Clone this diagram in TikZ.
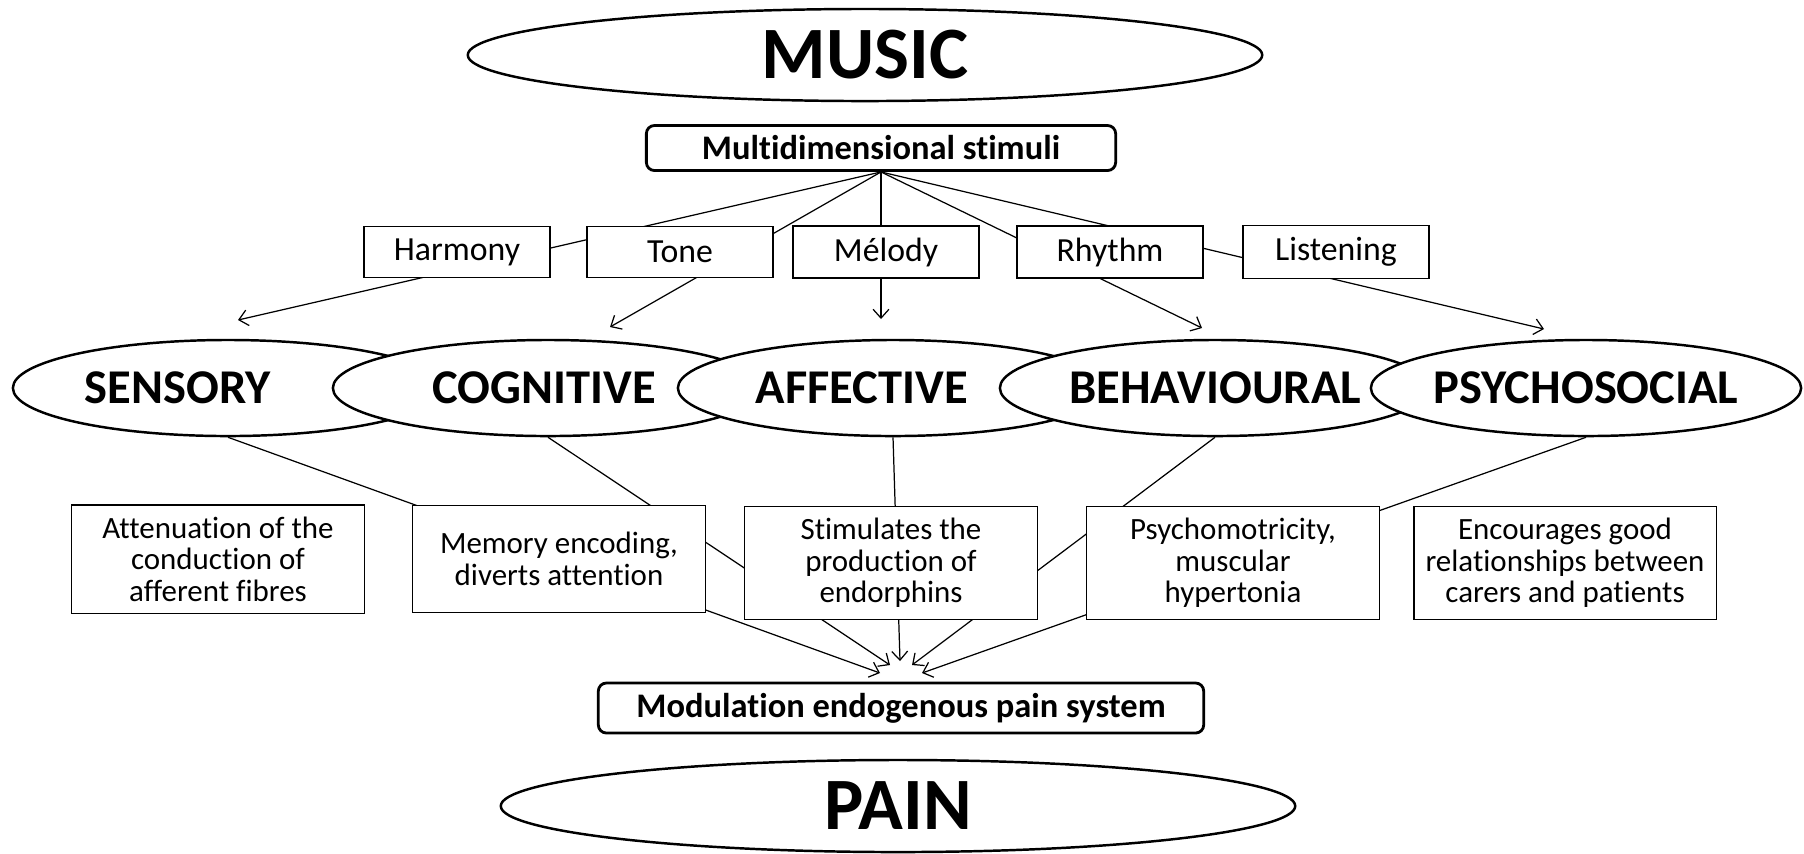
\documentclass[tikz,border=0pt]{standalone}
\usepackage{fontspec}
\setmainfont{Carlito}[Ligatures=CommonOff]
\usetikzlibrary{arrows.meta, backgrounds, positioning, shapes.geometric}

\tikzset{
	bigoval/.style={draw, ellipse, line width=0.7pt, inner sep=0pt, minimum width=7.94cm, minimum height=0.92cm, font=\fontsize{21}{24}\selectfont\bfseries},
	dimoval/.style={draw, ellipse, fill=white, line width=0.7pt, inner sep=0pt, minimum width=4.3cm, minimum height=0.96cm},
	dimtext/.style={inner sep=0pt, font=\fontsize{13.8}{16}\selectfont\bfseries},
	keybox/.style={draw, rounded corners=2.3pt, line width=0.8pt, inner sep=0pt, font=\fontsize{9.8}{12}\selectfont\bfseries},
	elembox/.style={draw, fill=white, line width=0.4pt, minimum width=1.86cm, minimum height=0.51cm, font=\fontsize{9.6}{12}\selectfont},
	effbox/.style={draw, fill=white, line width=0.4pt, minimum width=2.93cm, minimum height=1.07cm, align=center, font=\fontsize{8.8}{9}\selectfont},
	flow/.style={line width=0.35pt, -{Straight Barb[length=2.5pt,width=4.5pt]}}
}

\begin{document}
\begin{tikzpicture}[x=0.01cm, y=-0.01cm]
	\useasboundingbox (0,0) rectangle (1804,853);

	\node[bigoval] (music) at (865,55) {MUSIC};
	\node[keybox, minimum width=4.69cm, minimum height=0.45cm] (stim) at (881,148) {Multidimensional stimuli};

	% musical elements
	\node[elembox] (harm) at (457,252) {Harmony};
	\node[elembox] (tone) at (680,252) {Tone};
	\node[elembox] (melo) at (886,252) {Mélody};
	\node[elembox] (rhyt) at (1110,252) {Rhythm};
	\node[elembox] (list) at (1336,252) {Listening};

	% dimensions, left to right so each one covers the one before
	\node[dimoval] (sens) at (228,388) {};
	\node[dimtext] (sens-t) at ([xshift=-0.5cm]sens.center) {SENSORY};
	\node[dimoval] (cog) at (548,388) {};
	\node[dimtext] (cog-t) at ([xshift=-0.04cm]cog.center) {COGNITIVE};
	\node[dimoval] (aff) at (893,388) {};
	\node[dimtext] (aff-t) at ([xshift=-0.31cm]aff.center) {AFFECTIVE};
	\node[dimoval] (beh) at (1215,388) {};
	\node[dimtext] (beh-t) at (beh.center) {BEHAVIOURAL};
	\node[dimoval] (psy) at (1586,388) {};
	\node[dimtext] (psy-t) at (psy.center) {PSYCHOSOCIAL};

	% effects
	\node[effbox] (att) at (218,559) {Attenuation of the\\conduction of\\afferent fibres};
	\node[effbox] (mem) at (559,559) {Memory encoding,\\diverts attention};
	\node[effbox] (endo) at (891,563) {Stimulates the\\production of\\endorphins};
	\node[effbox] (psym) at (1233,563) {Psychomotricity,\\muscular\\hypertonia};
	\node[effbox] (enc) at (1565,563) {Encourages good\\relationships between\\carers and patients};

	\node[keybox, minimum width=6.05cm, minimum height=0.5cm] (mod) at (901,708) {Modulation endogenous pain system};
	\node[bigoval] (pain) at (898,806) {PAIN};

	\begin{scope}[on background layer]
		\fill[white] (0,0) rectangle (1804,853);
		\coordinate (sens-in) at (238,320);
		\coordinate (cog-in) at (610,327);
		\coordinate (aff-in) at (881,319);
		\coordinate (beh-in) at (1202,328);
		\coordinate (psy-in) at (1544,329);
		\coordinate (sens-out) at (880,673);
		\coordinate (cog-out) at (890,665);
		\coordinate (aff-out) at (900,661);
		\coordinate (beh-out) at (912,665);
		\coordinate (psy-out) at (922,673);
		\foreach \d in {sens,cog,aff,beh,psy}{
			\draw[flow] (stim.south) -- (\d-in);
			\draw[flow] (\d.south) -- (\d-out);
		}
	\end{scope}
\end{tikzpicture}
\end{document}
